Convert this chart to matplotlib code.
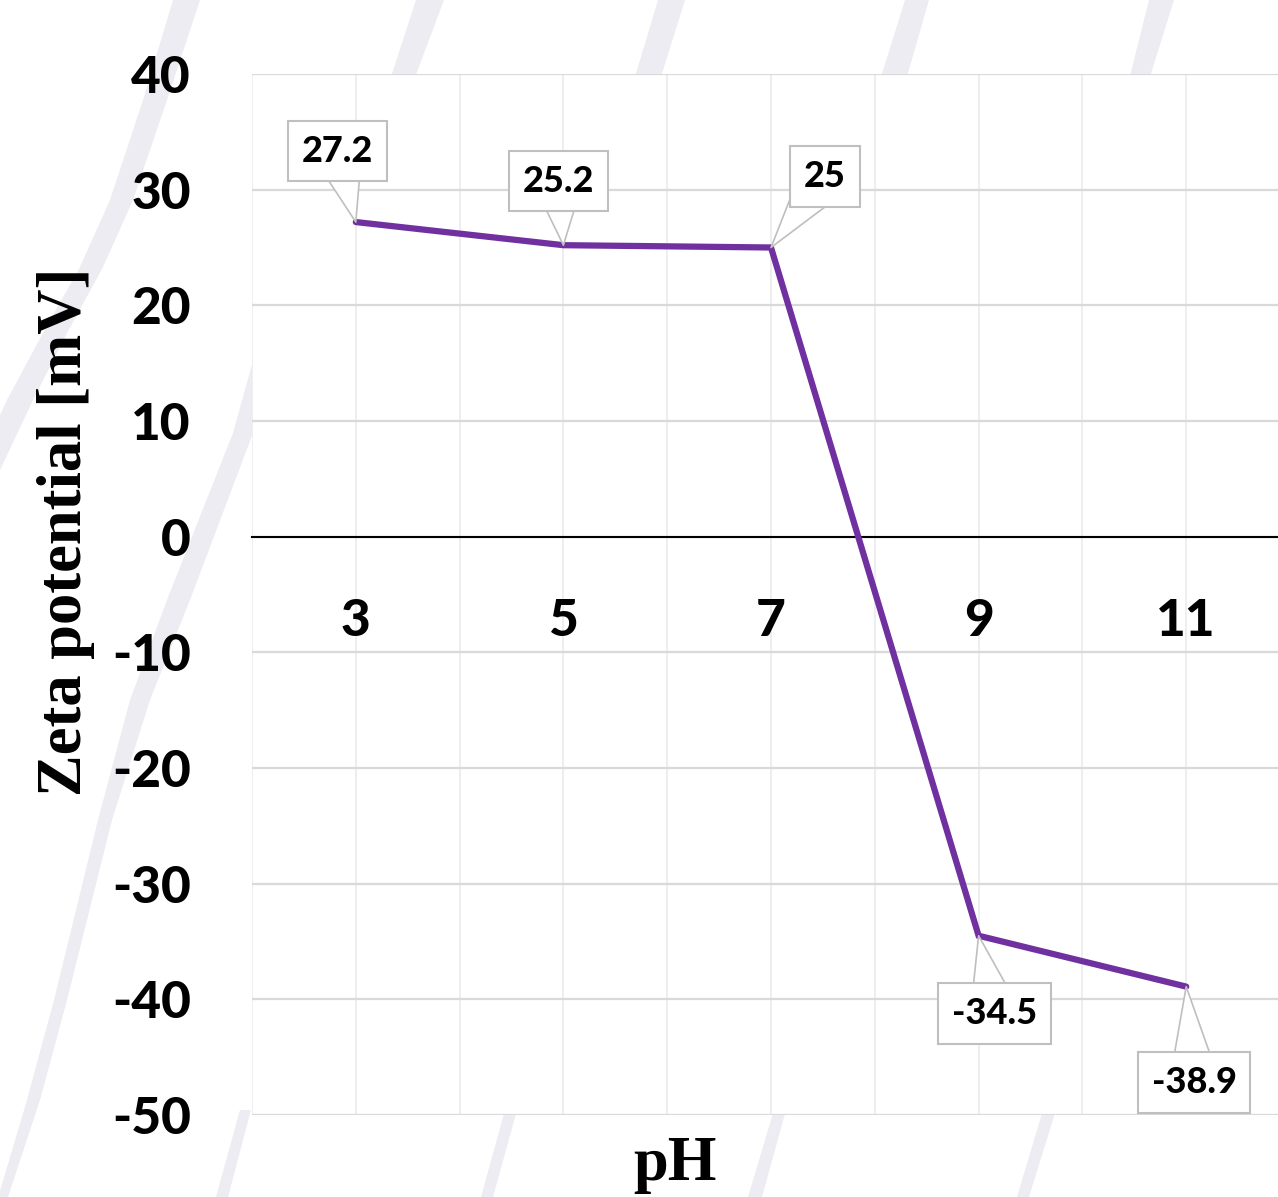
import numpy as np
import matplotlib
matplotlib.use("Agg")
import matplotlib.pyplot as plt
from matplotlib.patches import Polygon
from matplotlib.ticker import MultipleLocator

plt.rcParams["axes.unicode_minus"] = False

# Zeta potential of the particles at each pH
ph_labels = ["3", "5", "7", "9", "11"]
zeta_mv = [27.2, 25.2, 25.0, -34.5, -38.9]
point_labels = ["27.2", "25.2", "25", "-34.5", "-38.9"]
y_ticks = [-50, -40, -30, -20, -10, 0, 10, 20, 30, 40]

# callout offsets in pixels (dx, dy) from each point
callout_offsets = [(-18, 71), (-5, 64), (54, 71), (16, -78), (8, -96)]

W, H = 1278, 1197
fig = plt.figure(figsize=(W / 100, H / 100), dpi=100)


def to_fig(pts):
    # pixel coords (from top-left) -> figure fraction
    return [(x / W, 1 - y / H) for x, y in pts]


# faint diagonal stripes of the page background
stripes = [
    [(173, 0), (200, 0), (167, 100), (133, 200), (103, 267), (67, 333), (33, 400), (0, 470),
     (0, 415), (7, 400), (43, 333), (80, 267), (110, 200), (143, 100)],
    [(290, 300), (253, 433), (190, 600), (150, 700), (112, 820), (67, 1000), (40, 1100), (8, 1197),
     (0, 1197), (0, 1191), (27, 1100), (54, 1000), (98, 820), (130, 700), (167, 600), (233, 433), (270, 300)],
    [(416, 0), (444, 0), (414, 80), (390, 80)],
    [(658, 0), (685, 0), (660, 80), (634, 80)],
    [(905, 0), (929, 0), (906, 80), (880, 80)],
    [(1149, 0), (1174, 0), (1149, 80), (1129, 80)],
    [(240, 1110), (251, 1110), (228, 1197), (216, 1197)],
    [(505, 1110), (517, 1110), (493, 1197), (481, 1197)],
    [(774, 1110), (786, 1110), (762, 1197), (748, 1197)],
    [(1043, 1110), (1056, 1110), (1029, 1197), (1017, 1197)],
]
for s in stripes:
    fig.add_artist(Polygon(to_fig(s), closed=True, transform=fig.transFigure,
                           facecolor="#ececf2", edgecolor="none", zorder=-5))

ax = fig.add_axes([252 / W, (H - 1115) / H, 1038 / W, (1115 - 74) / H])
ax.set_facecolor("white")

x = np.arange(len(ph_labels))
ax.plot(x, zeta_mv, color="#7030a0", linewidth=4.5, solid_capstyle="round",
        solid_joinstyle="miter", zorder=3)

ax.set_xlim(-0.5, 4.5)
ax.set_ylim(-50, 40)
ax.set_yticks(y_ticks)
ax.set_xticks(x)
ax.set_xticklabels(ph_labels)
ax.xaxis.set_minor_locator(MultipleLocator(0.5))

ax.set_axisbelow(True)
ax.grid(axis="y", color="#d9d9d9", linewidth=1.6)
ax.grid(axis="x", which="both", color="#ebebeb", linewidth=1.2)

for side in ["top", "right", "left"]:
    ax.spines[side].set_visible(False)
ax.spines["bottom"].set_position(("data", 0))
ax.spines["bottom"].set_color("black")
ax.spines["bottom"].set_linewidth(1.5)
ax.spines["bottom"].set_zorder(2)

sans = ["Lato", "DejaVu Sans"]
ax.tick_params(axis="both", which="both", length=0)
ax.tick_params(axis="x", pad=44)
ax.tick_params(axis="y", pad=44)
for lab in ax.get_xticklabels() + ax.get_yticklabels():
    lab.set_fontfamily(sans)
    lab.set_fontweight("black")
    lab.set_fontsize(37)

# data callouts: the wedge starts at the label centre, the box hides its base
for xi, yi, txt, (dx, dy) in zip(x, zeta_mv, point_labels, callout_offsets):
    ax.annotate(txt, xy=(xi, yi), xytext=(dx, dy), textcoords="offset pixels",
                ha="center", va="center", fontsize=26, fontweight="black",
                fontfamily=sans, zorder=5,
                bbox=dict(boxstyle="square,pad=0.38", fc="white", ec="#bfbfbf", lw=1.5),
                arrowprops=dict(arrowstyle="wedge,tail_width=1.4,shrink_factor=0.5",
                                fc="white", ec="#bfbfbf", lw=1.2,
                                patchA=None, shrinkA=0, shrinkB=0))

title_font = dict(family=["Liberation Serif", "DejaVu Serif"], weight="bold", size=45)
fig.text(66 / W, 1 - 532 / H, "Zeta potential [mV]", rotation=90,
         ha="center", va="center", **title_font)
fig.text(675 / W, 1 - 1165 / H, "pH", ha="center", va="center", **title_font)

fig.savefig("out.png", dpi=100, facecolor="white")
